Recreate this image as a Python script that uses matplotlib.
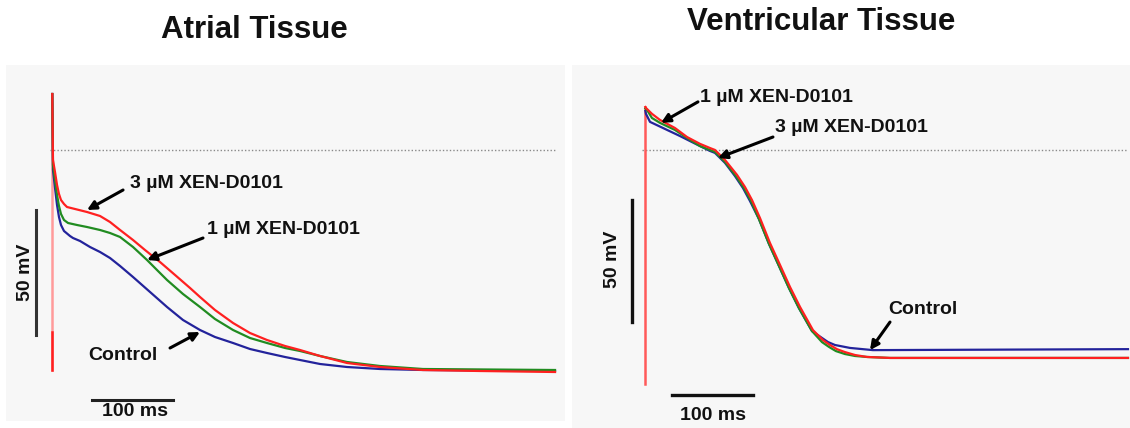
import numpy as np
import matplotlib
matplotlib.use("Agg")
import matplotlib.pyplot as plt

plt.rcParams['font.family'] = ['Liberation Sans', 'DejaVu Sans']

# ---------------------------------------------------------
# DATA (time in ms, membrane potential in mV)
# ---------------------------------------------------------
# Atrial tissue
atr_t_3um = [0.3, 1.2, 3.7, 6.2, 8.6, 11.1, 14.8, 18.5, 28.4, 43.2, 59.3, 71.6,
             84, 100, 114.8, 133.3, 151.9, 170.4, 182.7, 201.2, 223.5, 244.4,
             265.4, 287.7, 306.2, 330.9, 364.2, 404.9, 458, 528.4, 621]
atr_v_3um = [22.4, -4, -8.8, -14, -17.6, -20, -21.6, -22.8, -23.6, -24.8, -26.4,
             -28.8, -32, -36, -40, -44.8, -50, -55.2, -58.8, -64, -69.2, -73.2,
             -76, -78.4, -80, -82.4, -85.2, -86.8, -88, -88.4, -88.8]

atr_t_1um = [0.3, 1.2, 3.7, 6.2, 8.6, 11.1, 14.8, 19.8, 30.9, 43.2, 59.3, 71.6,
             84, 100, 117.3, 129.6, 142, 161.7, 182.7, 201.2, 223.5, 244.4,
             265.4, 287.7, 306.2, 330.9, 364.2, 404.9, 458, 621]
atr_v_1um = [22.4, -6, -12, -18, -22.4, -25.6, -28, -29.2, -30, -30.8, -32,
             -33.2, -34.8, -38.8, -44, -48, -52, -57.6, -62.8, -67.6, -72, -75.2,
             -77.2, -79.2, -80.4, -82.4, -84.8, -86.4, -87.6, -88]

atr_t_ctrl = [0.3, 1.2, 3.7, 6.2, 8.6, 11.1, 14.8, 22.2, 25.9, 34.6, 46.9, 59.3,
              71.6, 84, 100, 121, 142, 161.7, 182.7, 201.2, 223.5, 244.4, 265.4,
              287.7, 306.2, 330.9, 364.2, 404.9, 458, 621]
atr_v_ctrl = [22.4, -8, -15.2, -22, -26.8, -30, -32.4, -34.4, -35.2, -36.4,
              -38.8, -40.8, -43.2, -46.4, -50.8, -56.8, -62.8, -68, -72, -74.8,
              -77.2, -79.6, -81.2, -82.8, -84, -85.6, -86.8, -87.6, -88, -88.4]

atr_spike = [-88, 22.4]
atr_t_end = 621

# Ventricular tissue
ven_t_3um = [0.5, 1.2, 8.6, 18.5, 37, 51.9, 67.9, 80.2, 86.4, 98.8, 113.6,
             123.5, 132.1, 142, 154.3, 166.7, 179, 191.4, 207.4, 219.8, 228.4,
             237, 246.9, 259.3, 274.1, 302.5, 596.3]
ven_v_3um = [17.6, 17.2, 14.8, 12.3, 9.0, 5.3, 2.5, 0.8, 0, -4.1, -10.2,
             -15.2, -20.5, -27.9, -38.1, -47.1, -56.1, -64.3, -73.8, -77.9,
             -79.9, -81.6, -82.8, -84, -84.8, -85.2, -85.2]

ven_t_1um = [0.5, 2.5, 8.6, 18.5, 37, 51.9, 67.9, 80.2, 86.4, 98.8, 112.3,
             122.2, 130.9, 140.7, 153.1, 165.4, 177.8, 190.1, 206.2, 218.5,
             227.2, 235.8, 246.9, 259.3, 274.1, 302.5, 596.3]
ven_v_1um = [17.0, 16.4, 13.1, 11.1, 8.2, 4.9, 1.6, 0, -0.8, -4.9, -10.7,
             -15.6, -20.9, -28.3, -38.5, -47.5, -56.6, -64.8, -74.2, -78.7,
             -80.7, -82.4, -83.6, -84.4, -84.8, -85.2, -85.2]

ven_t_ctrl = [0.5, 1.2, 6.2, 22.2, 43.2, 67.9, 80.2, 86.4, 98.8, 111.1, 121,
              129.6, 140.7, 153.1, 165.4, 177.8, 190.1, 206.2, 218.5, 226,
              234.6, 253.1, 281.5, 596.3]
ven_v_ctrl = [16.0, 14.8, 11.5, 9.0, 5.7, 1.6, -0.4, -1.2, -5.3, -10.7, -15.6,
              -20.9, -28.3, -38.5, -47.5, -56.6, -64.8, -74.2, -77, -78.7,
              -79.9, -81.1, -82, -81.6]

ven_spike = [-95.9, 17.6]
ven_t_end = 596

labels = ['Control', '1 µM XEN-D0101', '3 µM XEN-D0101']
colors = ['#23239b', '#218c21', '#ff2020']

W, H = 1130, 428
fig = plt.figure(figsize=(W / 100, H / 100), dpi=100)
bg = '#f7f7f7'

# axes placed in pixel coords of the original picture
ax1 = fig.add_axes([6 / W, 1 - 421 / H, 559 / W, 356 / H])
ax2 = fig.add_axes([572 / W, 0, 558 / W, 363 / H])
ax1.set_xlim(-56.8, 633.3)
ax1.set_ylim(-108.4, 34)
ax2.set_xlim(-90.1, 598.8)
ax2.set_ylim(-113.9, 34.8)

for ax in (ax1, ax2):
    ax.set_facecolor(bg)
    for s in ax.spines.values():
        s.set_visible(False)
    ax.set_xticks([])
    ax.set_yticks([])

bold = dict(fontweight='bold', fontsize=14, color='#111111')
arrow = dict(arrowstyle='-|>', color='black', lw=2.2, mutation_scale=13,
             shrinkA=0, shrinkB=0)

# ---------------------------------------------------------
# ATRIAL
# ---------------------------------------------------------
ax1.plot([-2.5, atr_t_end], [0, 0], ls=(0, (1, 1.5)), color='#8a8a8a', lw=1)
ax1.plot([0, 0], atr_spike, color='#ff9a9a', lw=1.8)
ax1.plot([0, 0], [atr_spike[0], -72.8], color='#ff2020', lw=1.8)
for t, v, c in zip([atr_t_ctrl, atr_t_1um, atr_t_3um],
                   [atr_v_ctrl, atr_v_1um, atr_v_3um], colors):
    ax1.plot(t, v, color=c, lw=1.6, solid_joinstyle='round')

ax1.plot([-19.8, -19.8], [-24, -74], color='#333333', lw=2.2)
ax1.text(-33.3, -48.8, '50 mV', rotation=90, ha='center', va='center', **bold)
ax1.plot([49.4, 149.4], [-100, -100], color='#222222', lw=2.2)
ax1.text(102.5, -104.8, '100 ms', ha='center', va='center', **bold)

ax1.text(96.3, -13.2, labels[2], ha='left', va='center', **bold)
ax1.annotate('', xy=(43.2, -24), xytext=(87.7, -16), arrowprops=arrow)
ax1.text(191.4, -32, labels[1], ha='left', va='center', **bold)
ax1.annotate('', xy=(117.3, -44), xytext=(186.4, -35.2), arrowprops=arrow)
ax1.text(87.7, -82, labels[0], ha='center', va='center', **bold)
ax1.annotate('', xy=(182.7, -72.8), xytext=(145.7, -79.2), arrowprops=arrow)

# ---------------------------------------------------------
# VENTRICULAR
# ---------------------------------------------------------
ax2.plot([-3.7, ven_t_end], [0, 0], ls=(0, (1, 1.5)), color='#8a8a8a', lw=1)
ax2.plot([0, 0], ven_spike, color='#ff5a5a', lw=1.8)
for t, v, c in zip([ven_t_ctrl, ven_t_1um, ven_t_3um],
                   [ven_v_ctrl, ven_v_1um, ven_v_3um], colors):
    ax2.plot(t, v, color=c, lw=1.6, solid_joinstyle='round')

ax2.plot([-16, -16], [-20.5, -70.5], color='#111111', lw=2.4)
ax2.text(-39.5, -45, '50 mV', rotation=90, ha='center', va='center', **bold)
ax2.plot([33.3, 133.3], [-100.4, -100.4], color='#111111', lw=2.4)
ax2.text(84, -108.6, '100 ms', ha='center', va='center', **bold)

ax2.text(67.9, 21.3, labels[1], ha='left', va='center', **bold)
ax2.annotate('', xy=(19.8, 11.1), xytext=(65.4, 19.7), arrowprops=arrow)
ax2.text(160.5, 9.0, labels[2], ha='left', va='center', **bold)
ax2.annotate('', xy=(90.1, -3.3), xytext=(158, 5.3), arrowprops=arrow)
ax2.text(300, -65.2, labels[0], ha='left', va='center', **bold)
ax2.annotate('', xy=(277.8, -82), xytext=(302.5, -70.5), arrowprops=arrow)

# titles
fig.text(254 / W, 1 - 30 / H, 'Atrial Tissue', ha='center', va='center',
         fontsize=22.5, fontweight='bold', color='#111111')
fig.text(821 / W, 1 - 22 / H, 'Ventricular Tissue', ha='center', va='center',
         fontsize=22.5, fontweight='bold', color='#111111')

fig.savefig('out.png', dpi=100, facecolor='white')
